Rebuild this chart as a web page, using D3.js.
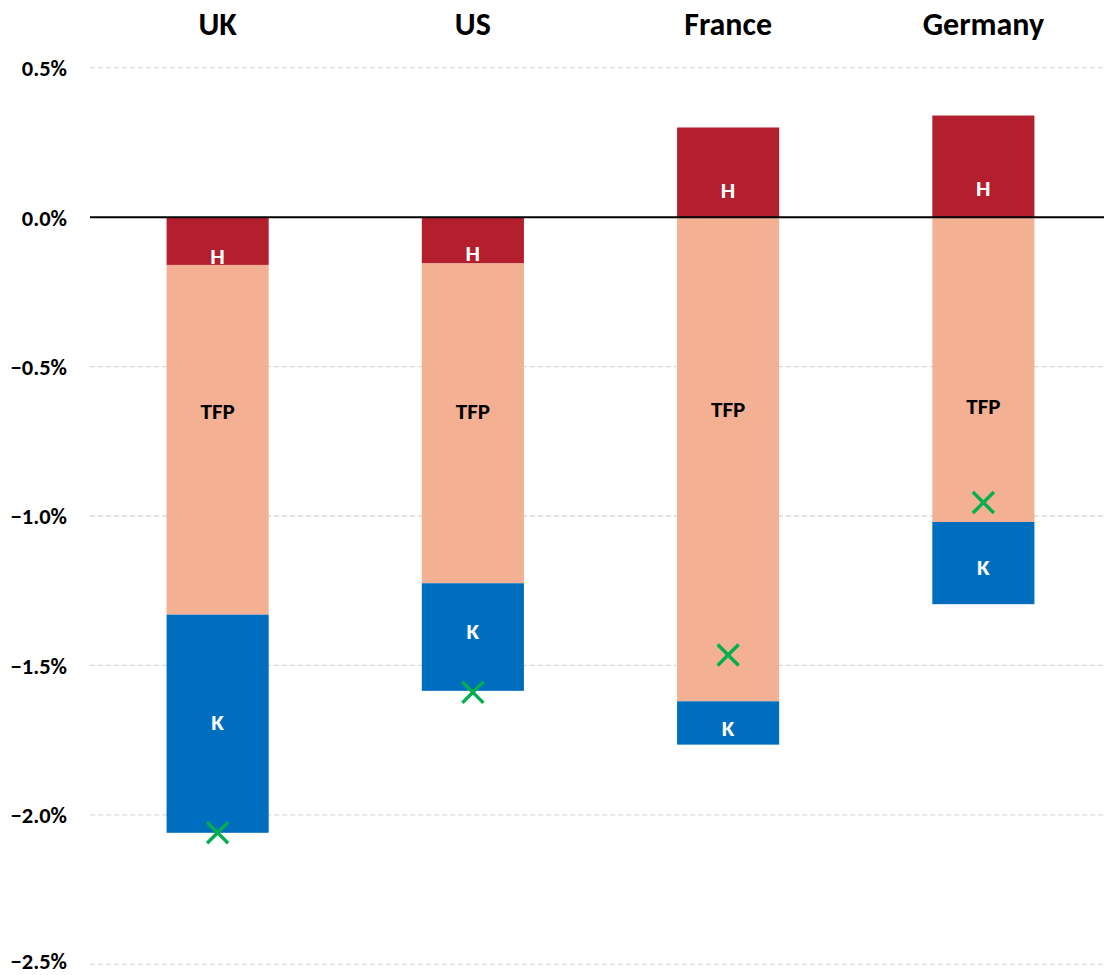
<!DOCTYPE html>
<html>
<head>
<meta charset="utf-8">
<script src="https://cdn.jsdelivr.net/npm/d3@7"></script>
<style>
  html, body { margin: 0; padding: 0; background: #fff; }
  svg { display: block; }
  text { font-family: Carlito, Lato, "Open Sans", sans-serif; font-weight: 700; }
</style>
</head>
<body>
<svg id="chart" width="1104" height="975"></svg>
<script>
// ---- data (percentage points) ----
const countries = ["UK", "US", "France", "Germany"];
const seriesNames = ["H", "TFP", "K"];
const hValues = [-0.16, -0.155, 0.30, 0.34];
const tfpValues = [-1.17, -1.07, -1.62, -1.02];
const kValues = [-0.73, -0.36, -0.145, -0.275];
const totalValues = [-2.06, -1.59, -1.465, -0.955];
// where each segment label sits (value on the axis)
const hLabelAt = [-0.13, -0.12, 0.09, 0.097];
const tfpLabelAt = [-0.65, -0.65, -0.643, -0.633];
const kLabelAt = [-1.69, -1.385, -1.71, -1.17];
const yTicks = [0.5, 0.0, -0.5, -1.0, -1.5, -2.0, -2.5];

const colors = { H: "#B41F2E", TFP: "#F4B092", K: "#006EBE" };

const rows = countries.map((c, i) => ({
  country: c, H: hValues[i], TFP: tfpValues[i], K: kValues[i],
  total: totalValues[i], labH: hLabelAt[i], labTFP: tfpLabelAt[i], labK: kLabelAt[i]
}));

const svg = d3.select("#chart");
const plotLeft = 90, plotRight = 1104;

const x = d3.scaleBand().domain(countries).range([90, 1111])
  .paddingInner(0.6).paddingOuter(0.3);
const y = d3.scaleLinear().domain([-2.5, 0.5]).range([964.3, 67.7]);

// gridlines
svg.append("g").selectAll("line").data(yTicks.filter(t => t !== 0)).join("line")
  .attr("x1", plotLeft).attr("x2", plotRight)
  .attr("y1", d => y(d)).attr("y2", d => y(d))
  .attr("stroke", "#D9D9D9").attr("stroke-width", 1.3)
  .attr("stroke-dasharray", "5,3");

// y tick labels via axis
const yAxis = d3.axisLeft(y).tickValues(yTicks)
  .tickFormat(d => d3.format(".1f")(d) + "%").tickSize(0).tickPadding(0);
const ya = svg.append("g").attr("transform", "translate(67,0)").call(yAxis);
ya.select(".domain").remove();
ya.selectAll("text").attr("font-size", 22.5).attr("fill", "#000")
  .style("font-family", "Carlito, Lato, 'Open Sans', sans-serif").style("font-weight", 700)
  .attr("dy", d => d === -2.5 ? "0.2em" : "0.35em");

// stacked bars
const stack = d3.stack().keys(seriesNames).offset(d3.stackOffsetDiverging);
const stacked = stack(rows);

svg.append("g").selectAll("g").data(stacked).join("g")
  .attr("fill", d => colors[d.key])
  .selectAll("rect").data(d => d).join("rect")
  .attr("x", d => x(d.data.country))
  .attr("width", x.bandwidth())
  .attr("y", d => y(d[1]))
  .attr("height", d => y(d[0]) - y(d[1]));

// zero line
svg.append("line")
  .attr("x1", plotLeft).attr("x2", plotRight)
  .attr("y1", y(0)).attr("y2", y(0))
  .attr("stroke", "#000").attr("stroke-width", 2);

// segment labels
const labelDefs = [
  { key: "H", at: "labH", fill: "#fff" },
  { key: "TFP", at: "labTFP", fill: "#000" },
  { key: "K", at: "labK", fill: "#fff" }
];
const lg = svg.append("g");
labelDefs.forEach(def => {
  lg.selectAll(null).data(rows).join("text")
    .attr("x", d => x(d.country) + x.bandwidth() / 2)
    .attr("y", d => y(d[def.at]))
    .attr("text-anchor", "middle")
    .attr("dominant-baseline", "central")
    .attr("font-size", 23)
    .attr("fill", def.fill)
    .text(def.key);
});

// total markers (green x)
const cross = d3.symbol().type(d3.symbolX).size(290);
svg.append("g").selectAll("path").data(rows).join("path")
  .attr("transform", d => `translate(${x(d.country) + x.bandwidth() / 2},${y(d.total)})`)
  .attr("d", cross)
  .attr("fill", "none")
  .attr("stroke", "#00B050")
  .attr("stroke-width", 3.4);

// category titles
svg.append("g").selectAll("text").data(countries).join("text")
  .attr("x", d => x(d) + x.bandwidth() / 2)
  .attr("y", 24)
  .attr("text-anchor", "middle")
  .attr("dominant-baseline", "central")
  .attr("font-size", 32)
  .attr("fill", "#000")
  .text(d => d);
</script>
</body>
</html>
